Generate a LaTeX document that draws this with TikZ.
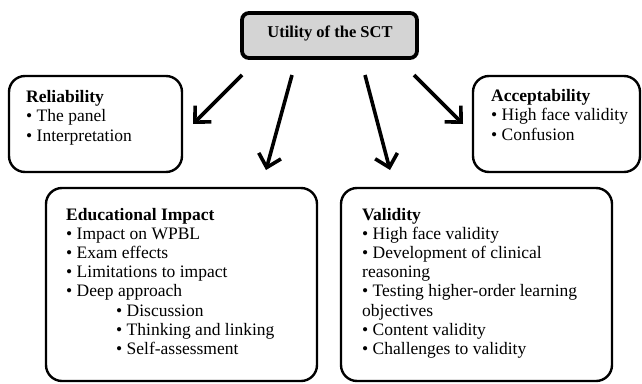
\documentclass[tikz,border=0pt]{standalone}
\usepackage{fontspec}
\setmainfont{Liberation Serif}
\usetikzlibrary{arrows.meta}

\begin{document}
\begin{tikzpicture}[x=1pt,y=-1pt,
	box/.style={line width=2.4pt, rounded corners=16pt},
	txt/.style={anchor=base west, inner sep=0pt, font=\fontsize{17.5}{19.3}\selectfont},
	ttl/.style={anchor=base west, inner sep=0pt, font=\fontsize{17.5}{19.3}\selectfont\bfseries},
	arr/.style={line width=3.6pt, -{Straight Barb[length=12pt,width=23pt,line width=3.6pt]}}]

				\useasboundingbox (0,0) rectangle (642,383);

				% main box
				\draw[line width=3.8pt, rounded corners=7pt, fill=black!17] (242,13) rectangle (417,58);
				\node[inner sep=0pt, font=\fontsize{16.5}{19.3}\selectfont\bfseries] (sct) at (330,33) {Utility of the SCT};

				% boxes
				\draw[box] (9,76) rectangle (182,172);
				\draw[box] (473,76) rectangle (640,172);
				\draw[box] (46,188) rectangle (317,381);
				\draw[box] (341,188) rectangle (612,381);

				\node[ttl] (rel) at (26,102) {Reliability};
				\foreach \t [count=\i] in {\textbullet\ The panel, \textbullet\ Interpretation}
					\node[txt] (rel\i) at (26,102+19.5*\i) {\t};

				\node[ttl] (acc) at (491,101) {Acceptability};
				\foreach \t [count=\i] in {\textbullet\ High face validity, \textbullet\ Confusion}
					\node[txt] (acc\i) at (491,101+19.5*\i) {\t};

				\node[ttl] (edu) at (66,220) {Educational Impact};
				\foreach \t [count=\i] in {\textbullet\ Impact on WPBL, \textbullet\ Exam effects,
					\textbullet\ Limitations to impact, \textbullet\ Deep approach,
					\hspace*{50pt}\textbullet\ Discussion, \hspace*{50pt}\textbullet\ Thinking and linking,
					\hspace*{50pt}\textbullet\ Self-assessment}
					\node[txt] (edu\i) at (66,220+19.2*\i) {\t};

				\node[ttl] (val) at (362,220) {Validity};
				\foreach \t [count=\i] in {\textbullet\ High face validity, \textbullet\ Development of clinical,
					reasoning, \textbullet\ Testing higher-order learning, objectives,
					\textbullet\ Content validity, \textbullet\ Challenges to validity}
					\node[txt] (val\i) at (362,220+19.2*\i) {\t};

				% arrows
				\coordinate (a1) at (242,75);
				\coordinate (b1) at (193,124);
				\coordinate (a2) at (292,75);
				\coordinate (b2) at (266,170);
				\coordinate (a3) at (365,75);
				\coordinate (b3) at (390,170);
				\coordinate (a4) at (414,75);
				\coordinate (b4) at (463,124);

				\draw[arr] (a1)--(b1);
				\draw[arr] (a2)--(b2);
				\draw[arr] (a3)--(b3);
				\draw[arr] (a4)--(b4);
			\end{tikzpicture}
\end{document}
